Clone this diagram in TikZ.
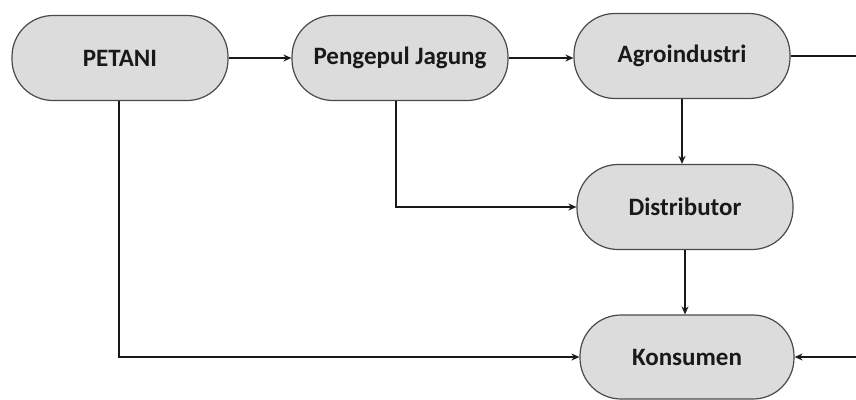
\documentclass[tikz,border=0pt]{standalone}
\usepackage{fontspec}
\setmainfont{Carlito}
\usetikzlibrary{arrows.meta,calc}
\definecolor{boxfill}{HTML}{DCDCDC}
\definecolor{boxline}{HTML}{4A4A4A}
\begin{document}
\begin{tikzpicture}[x=1pt,y=-1pt,
  chainbox/.style={draw=boxline,line width=1.2pt,fill=boxfill,rounded corners=41pt,
    minimum width=216pt,minimum height=85pt,inner sep=0pt,
    font=\fontsize{25}{30}\selectfont\bfseries,text=black!90},
  flow/.style={line width=1.6pt,draw=black!90,-{Stealth[length=8pt,width=7pt]}},
  plain/.style={line width=1.6pt,draw=black!90}]
\useasboundingbox (0,0) rectangle (856,399);
\node[chainbox] (petani) at (120,58) {PETANI};
\node[chainbox] (pengepul) at (400,58) {Pengepul Jagung};
\node[chainbox] (agro) at (682,56) {Agroindustri};
\node[chainbox] (dist) at (685,207) {Distributor};
\node[chainbox,minimum width=214pt,minimum height=84pt] (kons) at (687,357) {Konsumen};
\coordinate (rtop) at (857,56);
\coordinate (rbot) at (857,357);
\draw[flow] (petani.east) -- (pengepul.west);
\draw[flow] (pengepul.east) -- (pengepul.east -| agro.west);
\draw[plain] (agro.east) -- (rtop);
\draw[flow] (agro.south) -- (agro.south |- dist.north);
\draw[flow] ([xshift=-4pt]pengepul.south) |- (dist.west);
\draw[flow] ([xshift=-1pt]petani.south) |- (kons.west);
\draw[flow] (dist.south) -- (dist.south |- kons.north);
\draw[flow] (rbot) -- (kons.east);
\end{tikzpicture}
\end{document}
